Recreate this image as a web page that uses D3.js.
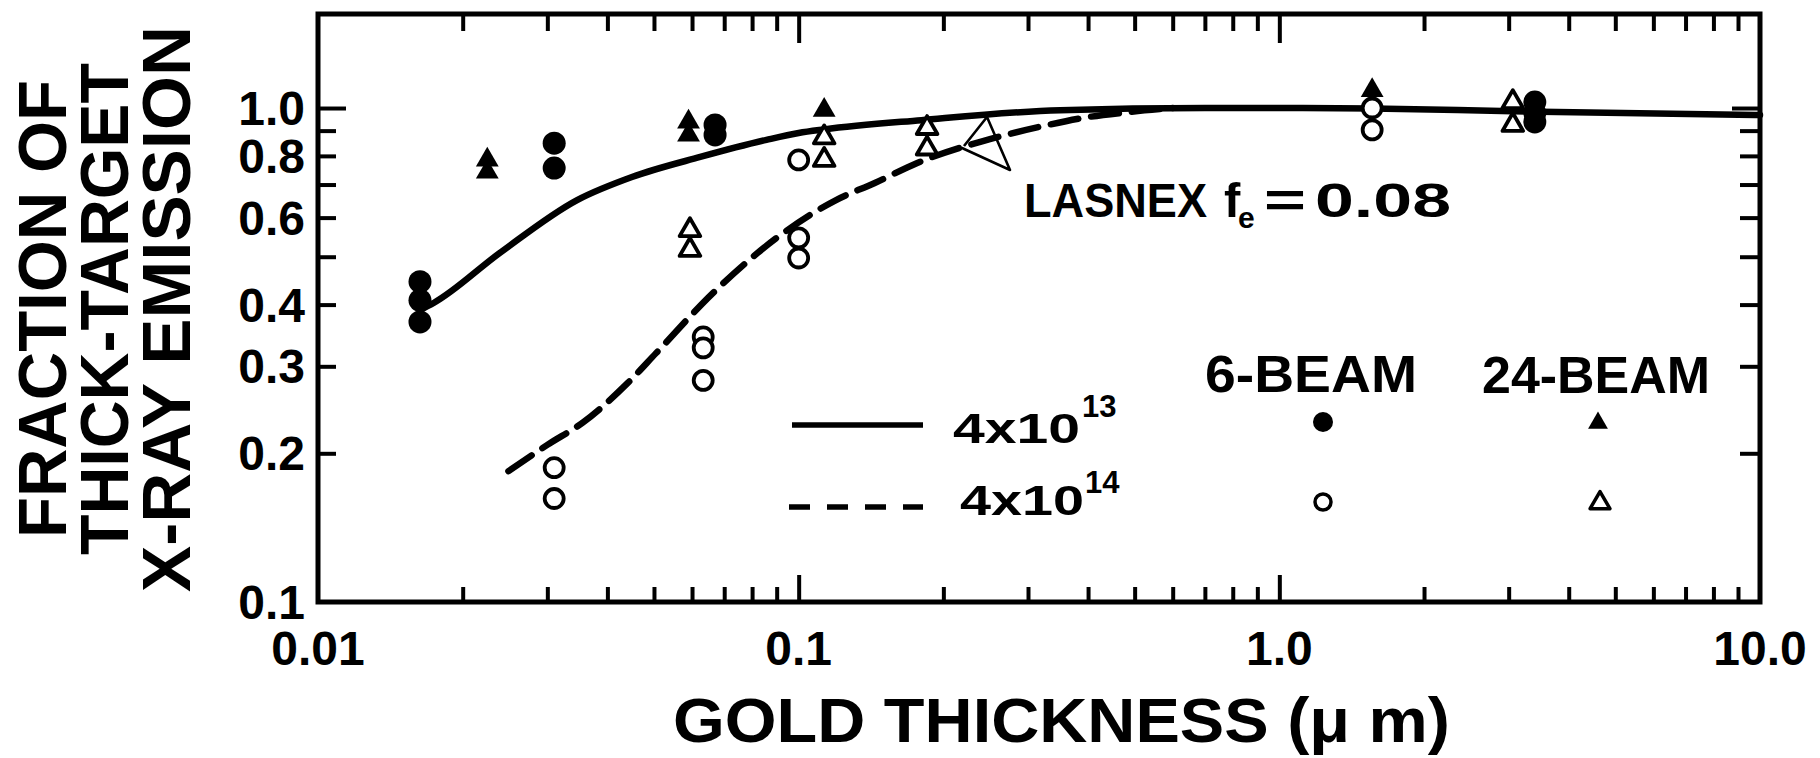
<!DOCTYPE html>
<html>
<head>
<meta charset="utf-8">
<script src="https://d3js.org/d3.v7.min.js"></script>
<style>
  html, body { margin: 0; padding: 0; background: #fff; }
  svg { display: block; }
  text { font-family: "Liberation Sans", Arial, Helvetica, sans-serif; font-weight: bold; fill: #000; }
</style>
</head>
<body>
<svg id="chart" width="1820" height="758"></svg>
<script>
// ---------------- data ----------------
// 6-BEAM, 4x10^13 (filled circles)
const filledCircleX = [0.0163, 0.0163, 0.0163, 0.031, 0.031, 0.067, 0.067, 3.4, 3.4, 3.4];
const filledCircleY = [0.445, 0.408, 0.369, 0.849, 0.756, 0.924, 0.882, 1.028, 0.977, 0.937];
// 24-BEAM, 4x10^13 (filled triangles)
const filledTriangleX = [0.0225, 0.0225, 0.059, 0.059, 0.113, 1.56];
const filledTriangleY = [0.785, 0.742, 0.937, 0.882, 0.99, 1.085];
// 6-BEAM, 4x10^14 (open circles)
const openCircleX = [0.031, 0.031, 0.0633, 0.0633, 0.0633, 0.1, 0.1, 0.1, 1.56, 1.56];
const openCircleY = [0.187, 0.162, 0.344, 0.327, 0.281, 0.785, 0.546, 0.497, 1.0, 0.903];
// 24-BEAM, 4x10^14 (open triangles)
const openTriangleX = [0.0594, 0.0594, 0.113, 0.113, 0.185, 0.185, 3.06, 3.06];
const openTriangleY = [0.566, 0.516, 0.872, 0.785, 0.911, 0.828, 1.028, 0.924];

// LASNEX curves
const solidCurveX = [0.0163, 0.0174, 0.0239, 0.0346, 0.045, 0.0624, 0.0857, 0.1, 0.113, 0.18, 0.35, 0.7, 1.1, 1.56, 3.06, 10];
const solidCurveY = [0.39, 0.403, 0.509, 0.651, 0.725, 0.796, 0.862, 0.89, 0.905, 0.945, 0.99, 1.0, 1.0, 0.998, 0.985, 0.968];
const dashedCurveX = [0.0249, 0.03, 0.0356, 0.044, 0.0505, 0.0663, 0.0928, 0.1199, 0.144, 0.1765, 0.26, 0.32, 0.398, 0.48, 0.6];
const dashedCurveY = [0.184, 0.208, 0.231, 0.277, 0.319, 0.422, 0.558, 0.652, 0.705, 0.774, 0.874, 0.918, 0.958, 0.98, 1.0];

// ticks and labels
const xMinorTicks = [0.02, 0.03, 0.04, 0.05, 0.06, 0.07, 0.08, 0.09, 0.2, 0.3, 0.4, 0.5, 0.6, 0.7, 0.8, 0.9, 2, 3, 4, 5, 6, 7, 8, 9];
const xMajorTicks = [0.1, 1];
const xTickLabelValues = [0.01, 0.1, 1, 10];
const xTickLabels = ["0.01", "0.1", "1.0", "10.0"];
const yMinorTicks = [0.2, 0.3, 0.4, 0.5, 0.6, 0.7, 0.8, 0.9];
const yMajorTicks = [1.0];
const yTickLabelValues = [1.0, 0.8, 0.6, 0.4, 0.3, 0.2, 0.1];
const yTickLabels = ["1.0", "0.8", "0.6", "0.4", "0.3", "0.2", "0.1"];

const xTitle = "GOLD THICKNESS (\u03bc m)";
const yTitleLines = ["FRACTION OF", "THICK-TARGET", "X-RAY EMISSION"];

// ---------------- layout ----------------
const svg = d3.select("#chart");
svg.append("rect").attr("width", 1820).attr("height", 758).attr("fill", "#fff");

const L = 318, R = 1760, T = 14, B = 602;
const x = d3.scaleLog().domain([0.01, 10]).range([L, R]);
const y = d3.scaleLog().domain([0.1, 1.55]).range([B, T]);

function styleAxis(g) {
  g.select(".domain").remove();
  g.selectAll(".tick line").attr("stroke", "#000").attr("stroke-width", 4);
  g.selectAll(".tick text").remove();
}

// bottom
svg.append("g").attr("transform", `translate(0,${B})`)
  .call(d3.axisBottom(x).tickValues(xMinorTicks).tickSize(-15).tickFormat("")).call(styleAxis);
svg.append("g").attr("transform", `translate(0,${B})`)
  .call(d3.axisBottom(x).tickValues(xMajorTicks).tickSize(-27).tickFormat("")).call(styleAxis);
// top
svg.append("g").attr("transform", `translate(0,${T})`)
  .call(d3.axisTop(x).tickValues(xMinorTicks).tickSize(-17).tickFormat("")).call(styleAxis);
svg.append("g").attr("transform", `translate(0,${T})`)
  .call(d3.axisTop(x).tickValues(xMajorTicks).tickSize(-29).tickFormat("")).call(styleAxis);
// left
svg.append("g").attr("transform", `translate(${L},0)`)
  .call(d3.axisLeft(y).tickValues(yMinorTicks).tickSize(-18).tickFormat("")).call(styleAxis);
svg.append("g").attr("transform", `translate(${L},0)`)
  .call(d3.axisLeft(y).tickValues(yMajorTicks).tickSize(-28).tickFormat("")).call(styleAxis);
// right
svg.append("g").attr("transform", `translate(${R},0)`)
  .call(d3.axisRight(y).tickValues(yMinorTicks).tickSize(-20).tickFormat("")).call(styleAxis);
svg.append("g").attr("transform", `translate(${R},0)`)
  .call(d3.axisRight(y).tickValues(yMajorTicks).tickSize(-28).tickFormat("")).call(styleAxis);

// frame
svg.append("rect").attr("x", L).attr("y", T).attr("width", R - L).attr("height", B - T)
  .attr("fill", "none").attr("stroke", "#000").attr("stroke-width", 5);

// tick labels
svg.append("g").selectAll("text").data(xTickLabelValues).join("text")
  .attr("x", d => x(d)).attr("y", 665).attr("text-anchor", "middle")
  .attr("font-size", 48).text((d, i) => xTickLabels[i]);
svg.append("g").selectAll("text").data(yTickLabelValues).join("text")
  .attr("x", 305).attr("y", d => y(d) + 17).attr("text-anchor", "end")
  .attr("font-size", 48).text((d, i) => yTickLabels[i]);

// axis titles
svg.append("text").attr("x", 673).attr("y", 742).attr("font-size", 63)
  .attr("textLength", 777).attr("lengthAdjust", "spacingAndGlyphs").text(xTitle);

const yTitleCenters = [42, 104, 166];
const yTitleLengths = [458, 492, 566];
yTitleLines.forEach((t, i) => {
  svg.append("text")
    .attr("transform", `translate(${yTitleCenters[i] + 24},309) rotate(-90)`)
    .attr("text-anchor", "middle").attr("font-size", 68)
    .attr("textLength", yTitleLengths[i]).attr("lengthAdjust", "spacingAndGlyphs")
    .text(t);
});

// curves
const line = d3.line().x(d => x(d[0])).y(d => y(d[1])).curve(d3.curveMonotoneX);
svg.append("path").datum(solidCurveX.map((v, i) => [v, solidCurveY[i]]))
  .attr("d", line).attr("fill", "none").attr("stroke", "#000").attr("stroke-width", 6.5)
  .attr("stroke-linecap", "round");
svg.append("path").datum(dashedCurveX.map((v, i) => [v, dashedCurveY[i]]))
  .attr("d", line).attr("fill", "none").attr("stroke", "#000").attr("stroke-width", 6.5)
  .attr("stroke-dasharray", "28,13").attr("stroke-linecap", "round");

// LASNEX pointer
svg.append("path").attr("d", "M930,157 L962,148 L1010,170 L987,117 L964,146")
  .attr("fill", "none").attr("stroke", "#000").attr("stroke-width", 2.6).attr("stroke-linejoin", "round");

// markers
const triFilled = d3.symbol().type(d3.symbolTriangle).size(225);
const triOpen = d3.symbol().type(d3.symbolTriangle).size(185);
const triSmall = d3.symbol().type(d3.symbolTriangle).size(170);

svg.append("g").selectAll("path").data(filledTriangleX.map((v, i) => [v, filledTriangleY[i]])).join("path")
  .attr("transform", d => `translate(${x(d[0])},${y(d[1])})`).attr("d", triFilled).attr("fill", "#000");
svg.append("g").selectAll("circle").data(filledCircleX.map((v, i) => [v, filledCircleY[i]])).join("circle")
  .attr("cx", d => x(d[0])).attr("cy", d => y(d[1])).attr("r", 11.5).attr("fill", "#000");
svg.append("g").selectAll("path").data(openTriangleX.map((v, i) => [v, openTriangleY[i]])).join("path")
  .attr("transform", d => `translate(${x(d[0])},${y(d[1])})`).attr("d", triOpen)
  .attr("fill", "#fff").attr("stroke", "#000").attr("stroke-width", 3.8).attr("stroke-linejoin", "round");
svg.append("g").selectAll("circle").data(openCircleX.map((v, i) => [v, openCircleY[i]])).join("circle")
  .attr("cx", d => x(d[0])).attr("cy", d => y(d[1])).attr("r", 9.5)
  .attr("fill", "#fff").attr("stroke", "#000").attr("stroke-width", 3.8);

// LASNEX label
svg.append("text").attr("x", 1024).attr("y", 217).attr("font-size", 49)
  .attr("textLength", 183).attr("lengthAdjust", "spacingAndGlyphs").text("LASNEX");
svg.append("text").attr("x", 1224).attr("y", 217).attr("font-size", 49).text("f");
svg.append("text").attr("x", 1238).attr("y", 228).attr("font-size", 30).text("e");
svg.append("text").attr("x", 1264).attr("y", 217).attr("font-size", 49)
  .attr("textLength", 42).attr("lengthAdjust", "spacingAndGlyphs").text("=");
svg.append("text").attr("x", 1451).attr("y", 217).attr("font-size", 49).attr("text-anchor", "end")
  .attr("textLength", 136).attr("lengthAdjust", "spacingAndGlyphs").text("0.08");

// legend
svg.append("text").attr("x", 1205).attr("y", 392).attr("font-size", 52)
  .attr("textLength", 212).attr("lengthAdjust", "spacingAndGlyphs").text("6-BEAM");
svg.append("text").attr("x", 1482).attr("y", 393).attr("font-size", 52)
  .attr("textLength", 228).attr("lengthAdjust", "spacingAndGlyphs").text("24-BEAM");

svg.append("line").attr("x1", 792).attr("x2", 923).attr("y1", 425).attr("y2", 425)
  .attr("stroke", "#000").attr("stroke-width", 5.5);
svg.append("line").attr("x1", 789).attr("x2", 923).attr("y1", 507).attr("y2", 507)
  .attr("stroke", "#000").attr("stroke-width", 5.5).attr("stroke-dasharray", "21,17");

svg.append("text").attr("x", 953).attr("y", 443).attr("font-size", 42)
  .attr("textLength", 127).attr("lengthAdjust", "spacingAndGlyphs").text("4x10");
svg.append("text").attr("x", 1082).attr("y", 417).attr("font-size", 31).text("13");
svg.append("text").attr("x", 960).attr("y", 515).attr("font-size", 42)
  .attr("textLength", 124).attr("lengthAdjust", "spacingAndGlyphs").text("4x10");
svg.append("text").attr("x", 1085).attr("y", 493).attr("font-size", 31).text("14");

svg.append("circle").attr("cx", 1323).attr("cy", 422).attr("r", 10).attr("fill", "#000");
svg.append("path").attr("transform", "translate(1598,423)").attr("d", triSmall).attr("fill", "#000");
svg.append("circle").attr("cx", 1323).attr("cy", 502).attr("r", 8).attr("fill", "#fff")
  .attr("stroke", "#000").attr("stroke-width", 3.5);
svg.append("path").attr("transform", "translate(1600,503)").attr("d", triSmall)
  .attr("fill", "#fff").attr("stroke", "#000").attr("stroke-width", 3.5).attr("stroke-linejoin", "round");
</script>
</body>
</html>
